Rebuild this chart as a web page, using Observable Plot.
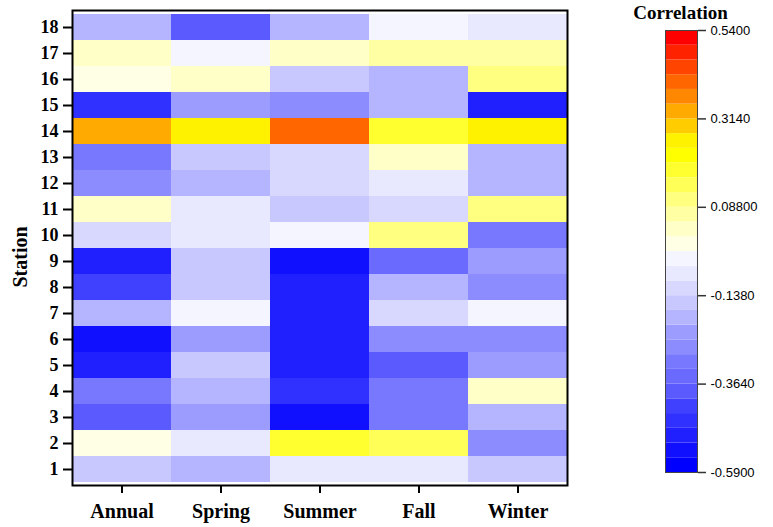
<!DOCTYPE html>
<html>
<head>
<meta charset="utf-8">
<script src="https://cdn.jsdelivr.net/npm/d3@7"></script>
<script src="https://cdn.jsdelivr.net/npm/@observablehq/plot@0.6"></script>
<style>
  html, body { margin: 0; padding: 0; background: #fff; }
  #wrap { display: flex; flex-direction: row; width: 773px; height: 527px; }
</style>
</head>
<body>
<div id="wrap"></div>
<script>
const seasons = ["Annual", "Spring", "Summer", "Fall", "Winter"];
const stations = [1, 2, 3, 4, 5, 6, 7, 8, 9, 10, 11, 12, 13, 14, 15, 16, 17, 18];

// correlation values per season, station 1..18
const annual = [-0.157, -0.006, -0.383, -0.307, -0.496, -0.534, -0.194, -0.420, -0.496, -0.119, 0.032, -0.270, -0.307, 0.333, -0.458, -0.006, 0.032, -0.194];
const spring = [-0.194, -0.081, -0.232, -0.194, -0.157, -0.232, -0.044, -0.157, -0.157, -0.081, -0.081, -0.194, -0.157, 0.258, -0.232, 0.032, -0.044, -0.383];
const summer = [-0.081, 0.182, -0.534, -0.458, -0.496, -0.496, -0.496, -0.496, -0.534, -0.044, -0.157, -0.119, -0.119, 0.408, -0.270, -0.157, 0.032, -0.194];
const fall   = [-0.081, 0.145, -0.307, -0.307, -0.383, -0.270, -0.119, -0.194, -0.345, 0.107, -0.119, -0.081, 0.032, 0.182, -0.194, -0.194, 0.069, -0.044];
const winter = [-0.157, -0.270, -0.194, 0.032, -0.232, -0.270, -0.044, -0.270, -0.232, -0.307, 0.107, -0.194, -0.194, 0.258, -0.496, 0.107, 0.069, -0.081];

// colour bar: 30 discrete bands from -0.59 to 0.54
const colorMin = -0.59;
const colorMax = 0.54;
const bandColors = [
  "#0000FF", "#1010FF", "#2020FF", "#3030FF", "#4040FF", "#5A5AFF", "#6A6AFF", "#7878FF", "#8C8CFF", "#9C9CFF",
  "#B5B5FF", "#C8C8FF", "#D8D8FF", "#E8E8FF", "#F5F5FF", "#FFFFE6", "#FFFFC8", "#FFFFA4", "#FFFF80", "#FFFF58",
  "#FFFF30", "#FFFF00", "#FFF200", "#FFCC00", "#FFAA00", "#FF8800", "#FF6600", "#FF4400", "#FF2200", "#FF0000"
];
const legendTicks = [-0.59, -0.364, -0.138, 0.088, 0.314, 0.54];
const legendTickLabels = ["-0.5900", "-0.3640", "-0.1380", "0.08800", "0.3140", "0.5400"];

const seriesBySeason = {Annual: annual, Spring: spring, Summer: summer, Fall: fall, Winter: winter};
const table = [];
for (const s of seasons) {
  seriesBySeason[s].forEach((v, i) => table.push({season: s, station: stations[i], value: v}));
}

const step = (colorMax - colorMin) / bandColors.length;
const thresholds = d3.range(1, bandColors.length).map(k => colorMin + k * step);
const bands = bandColors.map((c, k) => ({lo: colorMin + k * step, hi: colorMin + (k + 1) * step, mid: colorMin + (k + 0.5) * step}));

const colorScale = {type: "threshold", domain: thresholds, range: bandColors};
const serif = "'Liberation Serif', 'Times New Roman', serif";

const main = Plot.plot({
  width: 600,
  height: 527,
  marginLeft: 72,
  marginRight: 33,
  marginTop: 10,
  marginBottom: 42,
  x: {domain: seasons, padding: 0},
  y: {domain: stations.slice().reverse(), padding: 0},
  color: colorScale,
  marks: [
    Plot.cell(table, {x: "season", y: "station", fill: "value", inset: 0}),
    Plot.frame({stroke: "#000", strokeWidth: 2}),
    Plot.axisX({label: null, tickSize: 8, tickPadding: 10, strokeWidth: 2, fontSize: 20, fontWeight: "bold", fontFamily: serif, fill: "#000"}),
    Plot.axisY({label: null, tickSize: 9, tickPadding: 5, strokeWidth: 2, fontSize: 18, fontWeight: "bold", fontFamily: serif, fill: "#000"}),
    Plot.text(["Station"], {frameAnchor: "left", dx: -52, dy: 9, rotate: -90, textAnchor: "middle", fontSize: 20, fontWeight: "bold", fontFamily: serif, fill: "#000"})
  ]
});

const labelOf = new Map(legendTicks.map((t, i) => [t, legendTickLabels[i]]));
const legend = Plot.plot({
  width: 173,
  height: 527,
  marginLeft: 65,
  marginRight: 76,
  marginTop: 30,
  marginBottom: 55,
  x: {domain: [0, 1], axis: null},
  y: {domain: [colorMin, colorMax]},
  color: colorScale,
  marks: [
    Plot.rect(bands, {x1: 0, x2: 1, y1: "lo", y2: "hi", fill: "mid"}),
    Plot.frame({stroke: "#444", strokeWidth: 1}),
    Plot.axisY({anchor: "right", label: null, ticks: legendTicks, tickFormat: d => labelOf.get(d), tickSize: 8, tickPadding: 5, stroke: "#333", strokeWidth: 1.5, fontSize: 13, fontFamily: "'Liberation Sans', Arial, sans-serif", fill: "#000"}),
    Plot.text(["Correlation"], {frameAnchor: "top", dy: -12, dx: -1, lineAnchor: "bottom", fontSize: 19, fontWeight: "bold", fontFamily: serif, fill: "#000"})
  ]
});

const wrap = document.getElementById("wrap");
wrap.appendChild(main);
wrap.appendChild(legend);
</script>
</body>
</html>
